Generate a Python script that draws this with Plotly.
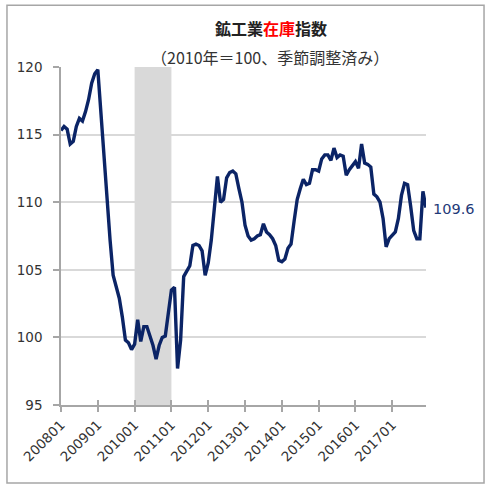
import plotly.graph_objects as go

# Monthly labels 2008-01 .. 2017-12
months = [f"{y}{m:02d}" for y in range(2008, 2018) for m in range(1, 13)]

values = [
    # 2008
    115.3, 115.6, 115.4, 114.3, 114.5, 115.6, 116.2, 116.0, 116.7, 117.6, 118.8, 119.5,
    # 2009
    119.8, 116.5, 113.3, 110.0, 107.2, 104.6, 103.8, 102.9, 101.5, 99.8, 99.6, 99.1,
    # 2010
    99.5, 101.3, 99.7, 100.8, 100.8, 100.1, 99.4, 98.4, 99.4, 100.0, 100.1, 101.8,
    # 2011
    103.5, 103.7, 97.7, 99.8, 104.5, 104.9, 105.3, 106.8, 106.9, 106.8, 106.4, 104.6,
    # 2012
    105.5, 107.2, 109.8, 111.9, 110.0, 110.2, 111.8, 112.2, 112.3, 112.1, 111.0, 110.0,
    # 2013
    108.3, 107.5, 107.2, 107.3, 107.5, 107.6, 108.4, 107.8, 107.6, 107.3, 106.8, 105.7,
    # 2014
    105.6, 105.8, 106.6, 106.9, 108.6, 110.2, 111.0, 111.7, 111.3, 111.4, 112.4, 112.4,
    # 2015
    112.3, 113.2, 113.5, 113.5, 113.1, 114.0, 113.3, 113.5, 113.4, 112.0, 112.4, 112.7,
    # 2016
    113.0, 112.5, 114.3, 112.9, 112.8, 112.6, 110.6, 110.4, 110.0, 108.8, 106.7, 107.3,
    # 2017
    107.6, 107.8, 108.8, 110.5, 111.4, 111.3, 109.7, 107.9, 107.3, 107.3, 110.8, 109.6,
]

tick_labels = months[::12]
shade_start, shade_end = "201001", "201101"
last_label = "109.6"

x_idx = list(range(len(months)))
tick_idx = [months.index(t) for t in tick_labels]

fig = go.Figure()
fig.add_trace(go.Scatter(
    x=x_idx, y=values, mode="lines",
    line=dict(color="#0b2466", width=3.4),
    hoverinfo="skip", showlegend=False,
))
# dummy trace for overlay axis carrying the inner half of the crossing ticks
fig.add_trace(go.Scatter(x=[0, len(months) - 1], y=[95, 95], mode="lines",
                         line=dict(width=0), xaxis="x2", yaxis="y",
                         hoverinfo="skip", showlegend=False))

fig.add_shape(type="rect", xref="x", yref="y domain",
              x0=months.index(shade_start), x1=months.index(shade_end),
              y0=0, y1=1, fillcolor="#d9d9d9", line=dict(width=0), layer="below")

# outer frame
fig.add_shape(type="rect", xref="paper", yref="paper",
              x0=-0.148, x1=1.159, y0=-0.231, y1=1.183,
              line=dict(color="#a6a6a6", width=1.5), fillcolor="rgba(0,0,0,0)")

fig.add_annotation(xref="paper", yref="paper", x=0.575, y=1.115, yanchor="middle",
                   text="<b>鉱工業<span style='color:#ff0000'>在庫</span>指数</b>",
                   showarrow=False, font=dict(family="Noto Sans CJK JP", size=16, color="#222222"))
fig.add_annotation(xref="paper", yref="paper", x=0.572, y=1.03, yanchor="middle",
                   text="（2010年＝100、季節調整済み）",
                   showarrow=False, font=dict(family="Noto Sans CJK JP", size=16, color="#333333"))
fig.add_annotation(x=x_idx[-1], y=values[-1], text=last_label, showarrow=False,
                   xanchor="left", xshift=5, yshift=-1,
                   font=dict(family="DejaVu Sans", size=14.5, color="#1f3a78"))

fig.update_layout(
    width=491, height=489,
    margin=dict(l=61, r=65, t=67, b=84),
    paper_bgcolor="white", plot_bgcolor="white",
    font=dict(family="DejaVu Sans", color="#333333"),
    xaxis=dict(
        range=[0, len(months) - 1], tickvals=tick_idx, ticktext=tick_labels,
        tickangle=-45, tickfont=dict(size=13.5, color="#333333"),
        showgrid=False, zeroline=False, showline=True, linecolor="#a6a6a6", linewidth=1.5,
        ticks="outside", ticklen=5, tickcolor="#a6a6a6", tickwidth=1.5,
    ),
    xaxis2=dict(
        overlaying="x", range=[0, len(months) - 1], tickvals=tick_idx,
        showticklabels=False, showgrid=False, zeroline=False, showline=False,
        ticks="inside", ticklen=5, tickcolor="#a6a6a6", tickwidth=1.5,
        anchor="y", side="bottom",
    ),
    yaxis=dict(
        range=[95, 120], dtick=5, tick0=95,
        tickfont=dict(size=13.5, color="#333333"), ticklabelstandoff=8,
        showgrid=True, gridcolor="#d9d9d9", gridwidth=1.5, zeroline=False,
        showline=True, linecolor="#a6a6a6", linewidth=1.5,
        ticks="outside", ticklen=6, tickcolor="#a6a6a6", tickwidth=1.5,
    ),
)

fig.write_html("out.html")
